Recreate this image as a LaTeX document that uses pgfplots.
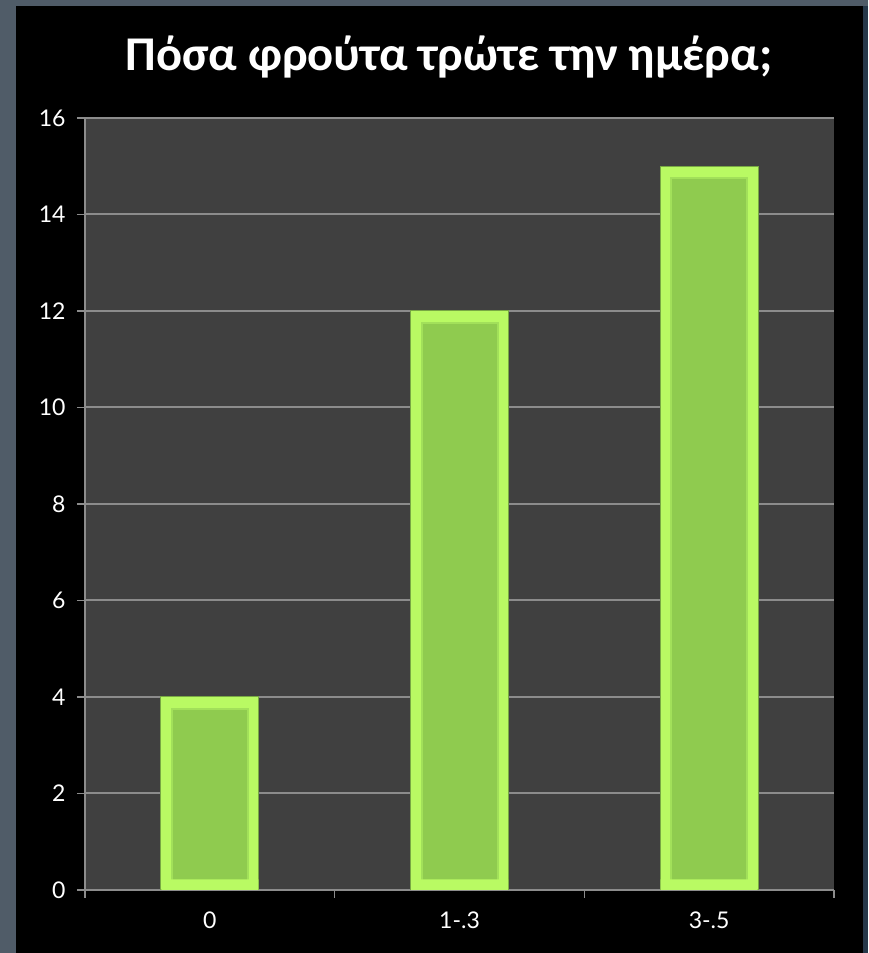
\documentclass[border=0pt]{standalone}
\usepackage{pgfplots}
\usepackage{pgfplotstable}
\pgfplotsset{compat=1.18}
\usepackage{fontspec}
\setmainfont{Lato}
\newfontfamily\titlefont{Carlito}
\definecolor{framecol}{HTML}{505C68}
\definecolor{rightstrip}{HTML}{26384A}
\definecolor{plotbg}{HTML}{404040}
\definecolor{gridcol}{HTML}{8C8C8C}
\definecolor{barfill}{HTML}{8FCB4F}
\definecolor{barrim}{HTML}{B9FA63}
\definecolor{barbevel}{HTML}{A2E05A}
\definecolor{barline}{HTML}{78A843}
\pgfplotstableread{
x v
0 4
1 12
2 15
}\fruit
\begin{document}
\begin{tikzpicture}
\fill[framecol] (0pt,0pt) rectangle (868pt,953pt);
\fill[rightstrip] (862pt,0pt) rectangle (868pt,947pt);
\fill[black] (16pt,0pt) rectangle (863pt,947pt);
\node[font=\titlefont\bfseries\fontsize{48.5}{54}\selectfont, text=white] at (449pt,896pt) {Πόσα φρούτα τρώτε την ημέρα;};
\begin{axis}[
  at={(85pt,63pt)}, anchor=south west,
  scale only axis, width=749pt, height=772pt,
  xmin=-0.5, xmax=2.5, ymin=0, ymax=16,
  ytick={0,2,...,16},
  xtick={-0.5,0.5,1.5,2.5}, xticklabels={},
  extra x ticks={0,1,2}, extra x tick labels={0,1-.3,3-.5},
  extra x tick style={major tick length=0pt, xticklabel style={yshift=-18pt}},
  axis lines=left,
  axis line style={-, draw=gridcol, line width=2pt},
  tick align=outside, major tick length=8pt,
  tick style={draw=gridcol, line width=1.5pt},
  ymajorgrids, grid style={draw=gridcol, line width=2pt},
  axis background/.style={fill=plotbg},
  ticklabel style={font=\fontsize{23}{23}\selectfont, text=white},
  yticklabel style={xshift=-8pt},
  /pgf/number format/assume math mode=true,
]
\addplot[ybar, bar width=98pt, fill=barrim, draw=barline, line width=1pt] table[x=x, y=v] {\fruit};
\addplot[ybar, bar width=76pt, fill=barfill, draw=barbevel, line width=2pt] table[x=x, y expr=\thisrow{v}-0.24] {\fruit};
\addplot[ybar, bar width=97pt, fill=barrim, draw=none] table[x=x, y expr=0.22] {\fruit};
\end{axis}
\end{tikzpicture}
\end{document}
